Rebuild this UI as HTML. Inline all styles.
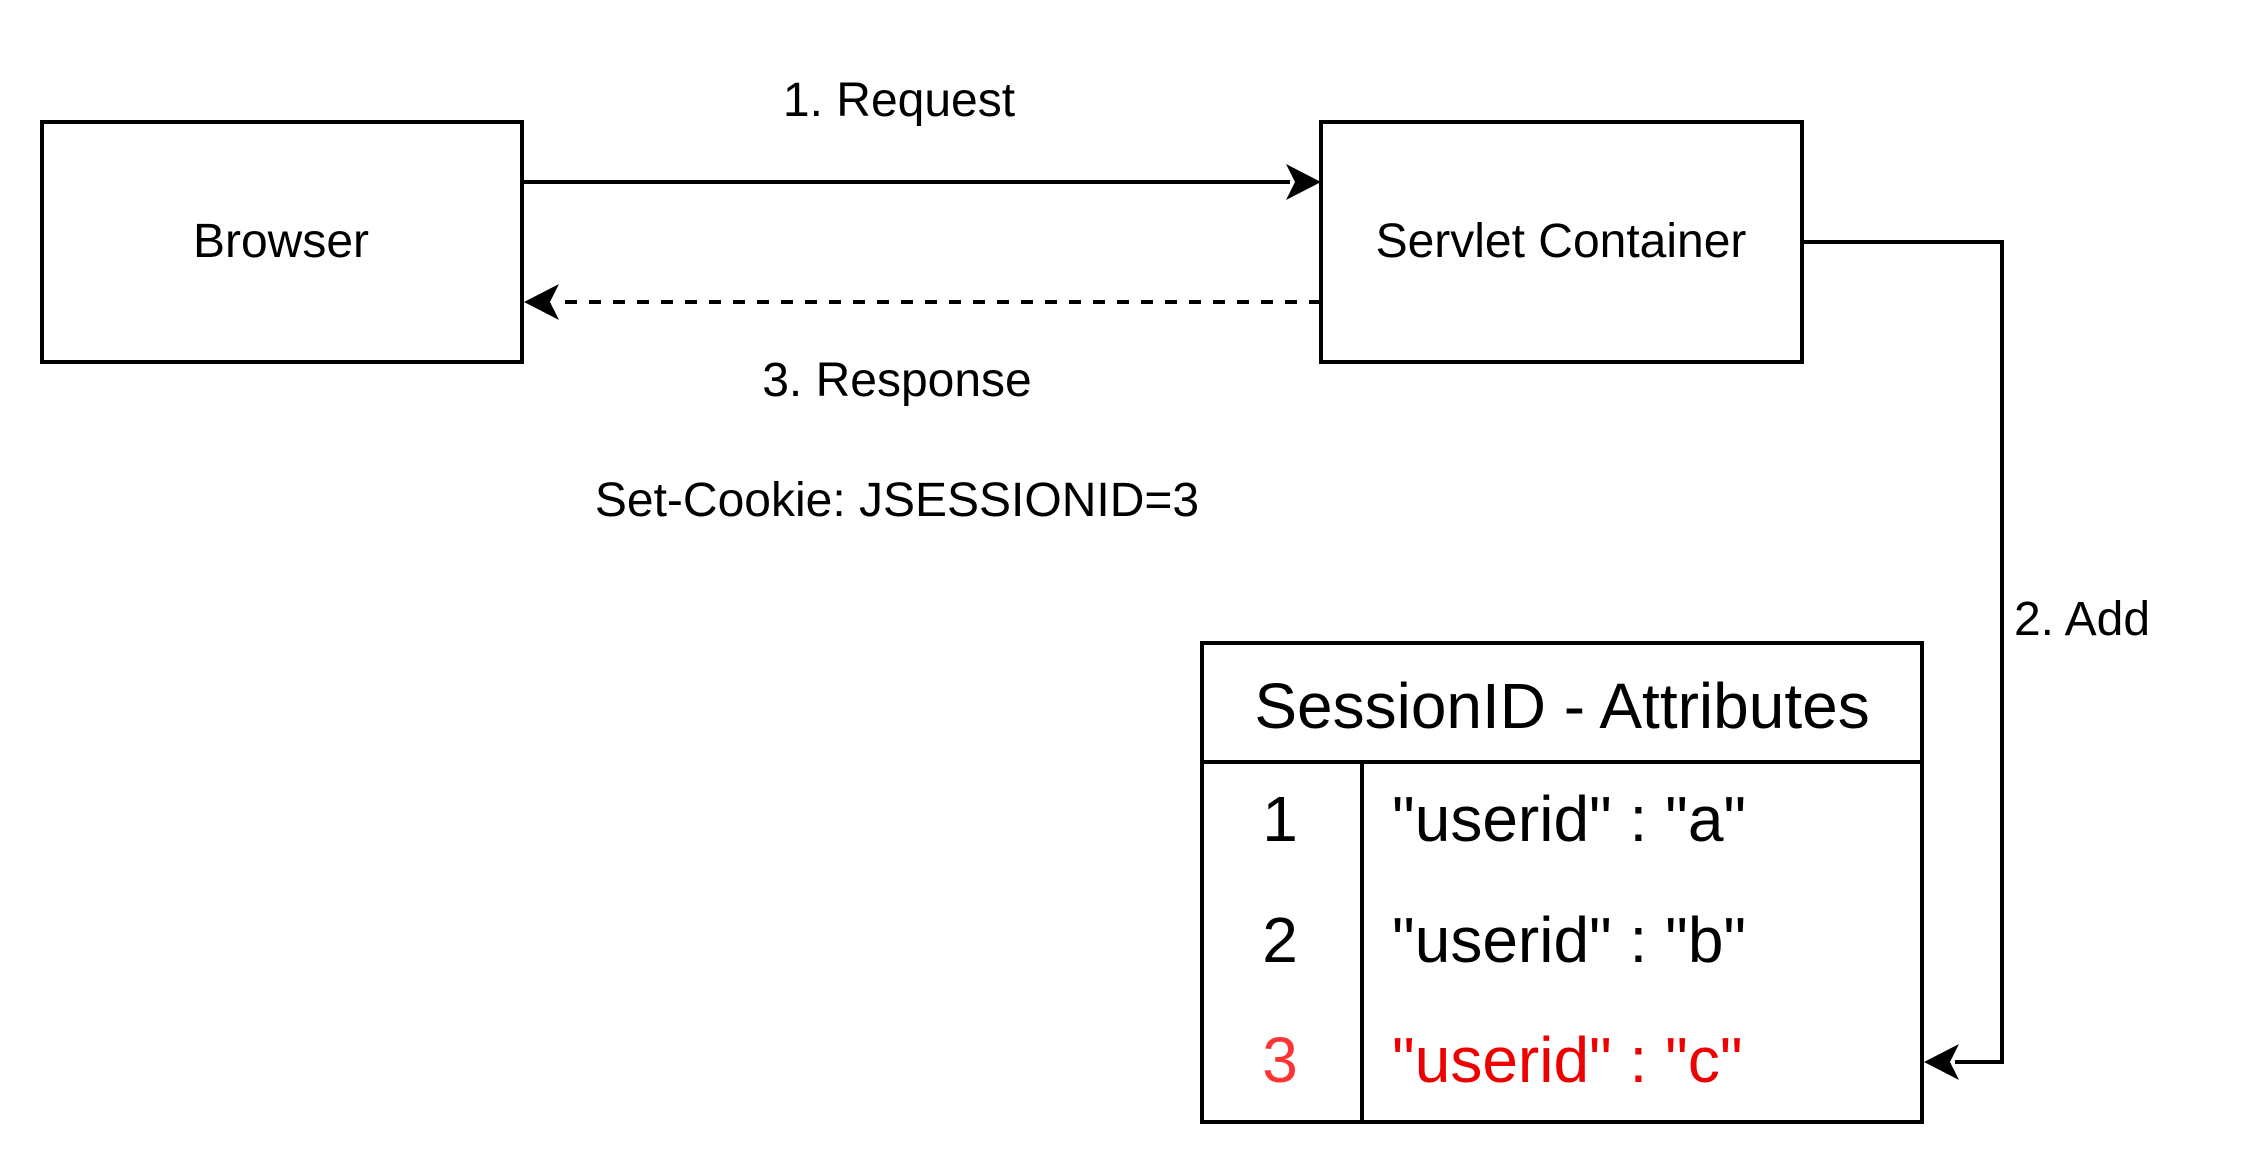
<!DOCTYPE html>
<html><head><meta charset="utf-8"><style>
html,body{margin:0;padding:0;background:#fff;}
svg{display:block;}
text{font-family:"Liberation Sans",Arial,sans-serif;}
</style></head><body>
<svg width="2244" height="1164" viewBox="0 0 2244 1164" xmlns="http://www.w3.org/2000/svg">
<rect width="2244" height="1164" fill="#fff"/>
<g fill="none" stroke="#000" stroke-width="4">
<rect x="42" y="122" width="480" height="240"/>
<rect x="1321" y="122" width="481" height="240"/>
<line x1="522" y1="182" x2="1290" y2="182"/>
<line x1="1321" y1="302" x2="555" y2="302" stroke-dasharray="12 12"/>
<polyline points="1802,242 2002,242 2002,1062 1955,1062"/>
<rect x="1202" y="643" width="720" height="479"/>
<line x1="1202" y1="762" x2="1922" y2="762"/>
<line x1="1362" y1="762" x2="1362" y2="1122"/>
</g>
<g fill="#000">
<path d="M1321,182 L1286,164 L1295,182 L1286,200 Z"/>
<path d="M524,302 L559,284 L550,302 L559,320 Z"/>
<path d="M1924,1062 L1959,1044 L1950,1062 L1959,1080 Z"/>
</g>
<g font-size="48" text-anchor="middle" fill="#000">
<text x="281" y="257">Browser</text>
<text x="1561" y="257">Servlet Container</text>
<text x="899" y="116">1. Request</text>
<text x="897" y="396">3. Response</text>
<text x="897" y="516">Set-Cookie: JSESSIONID=3</text>
<text x="2082" y="635">2. Add</text>
</g>
<g font-size="64" fill="#000">
<text x="1562" y="728" text-anchor="middle">SessionID - Attributes</text>
<text x="1280" y="841" text-anchor="middle">1</text>
<text x="1392" y="841">"userid" : "a"</text>
<text x="1280" y="962" text-anchor="middle">2</text>
<text x="1392" y="962">"userid" : "b"</text>
<text x="1280" y="1082" text-anchor="middle" fill="#f33">3</text>
<text x="1392" y="1082" fill="#e00">"userid" : "c"</text>
</g>
</svg>
</body></html>
